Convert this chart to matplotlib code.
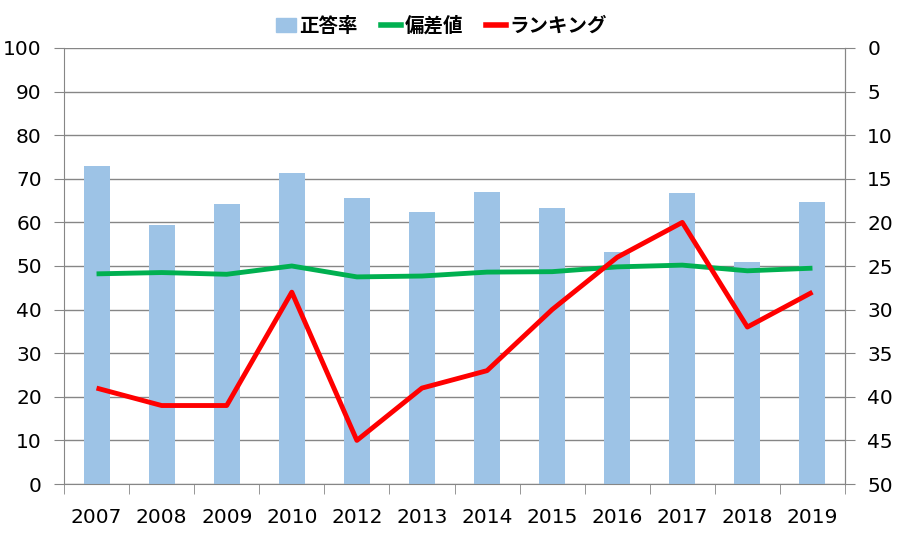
import numpy as np
import matplotlib

matplotlib.use("Agg")
import matplotlib.pyplot as plt  # noqa: E402
from matplotlib.patches import Patch  # noqa: E402
from matplotlib.lines import Line2D  # noqa: E402

plt.rcParams["font.family"] = ["DejaVu Sans", "Noto Sans CJK JP"]

years = ["2007", "2008", "2009", "2010", "2012", "2013",
         "2014", "2015", "2016", "2017", "2018", "2019"]
correct_rate = [72.9, 59.4, 64.2, 71.3, 65.6, 62.4,
                67.0, 63.3, 53.2, 66.7, 50.9, 64.7]
deviation = [48.2, 48.5, 48.1, 50.0, 47.5, 47.7,
             48.6, 48.7, 49.8, 50.2, 48.9, 49.5]
ranking = [39, 41, 41, 28, 45, 39, 37, 30, 24, 20, 32, 28]

GRID = "#868686"
BAR = "#9DC3E6"
GREEN = "#00B050"
RED = "#FF0000"

fig = plt.figure(figsize=(9.05, 5.46), dpi=100)
ax = fig.add_axes([64 / 905, 1 - 484 / 546, (845 - 64) / 905, (484 - 48) / 546])
x = np.arange(len(years))

ax.bar(x, correct_rate, width=0.4, color=BAR, zorder=2)
ax.plot(x, deviation, color=GREEN, lw=3.5, zorder=3, solid_capstyle="butt")
ax.set_xlim(-0.5, len(years) - 0.5)
ax.set_ylim(0, 100)
ax.set_yticks(np.arange(0, 101, 10))
ax.grid(axis="y", color=GRID, lw=1, zorder=0)
ax.set_axisbelow(True)

ax.set_xticks(x)
ax.set_xticklabels(years)
ax.set_xticks(np.arange(-0.5, len(years), 1.0), minor=True)
ax.tick_params(axis="x", which="major", length=0, pad=17, labelsize=14.5)
ax.tick_params(axis="x", which="minor", length=7, color=GRID)
ax.tick_params(axis="y", length=7, color=GRID, labelsize=14.5, pad=9)

ax.spines["top"].set_visible(False)
for side in ("left", "right", "bottom"):
    ax.spines[side].set_color(GRID)

ax2 = ax.twinx()
ax2.plot(x, ranking, color=RED, lw=3.5, zorder=4, solid_capstyle="butt")
ax2.set_ylim(50, 0)
ax2.set_yticks(np.arange(0, 51, 5))
ax2.tick_params(axis="y", length=7, color=GRID, labelsize=14.5, pad=9)
for side in ("top", "left", "bottom"):
    ax2.spines[side].set_visible(False)
ax2.spines["right"].set_color(GRID)

handles = [Patch(color=BAR),
           Line2D([], [], color=GREEN, lw=4),
           Line2D([], [], color=RED, lw=4)]
fig.legend(handles, ["正答率", "偏差値", "ランキング"],
           loc="center", bbox_to_anchor=(0.488, 1 - 26 / 546), ncol=3,
           frameon=False, handlelength=1.0, handletextpad=0.2,
           columnspacing=1.2,
           prop={"family": ["Noto Sans CJK JP"], "weight": "bold", "size": 14})

fig.savefig("out.png", dpi=100)
